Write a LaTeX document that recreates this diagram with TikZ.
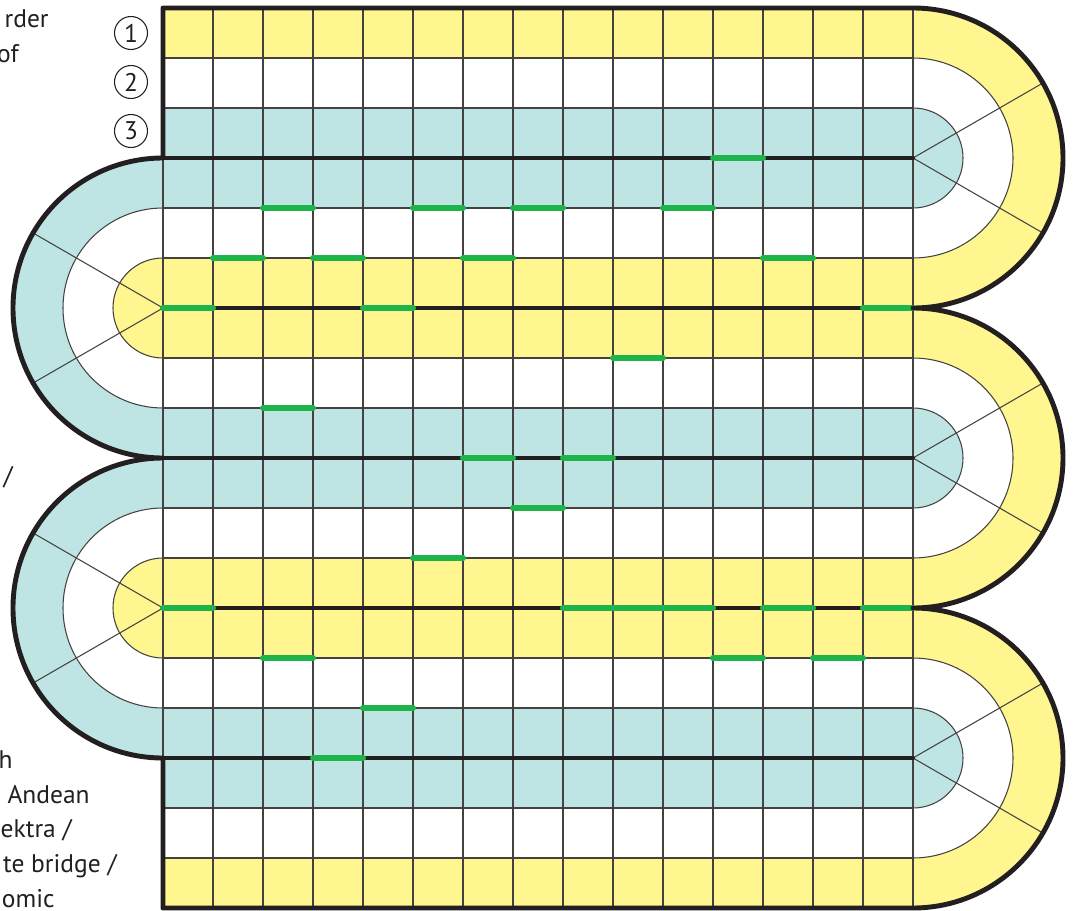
\documentclass[tikz,border=0pt]{standalone}
\usepackage{fontspec}
\setmainfont{PT Sans}
\definecolor{bandyellow}{RGB}{255,246,143}
\definecolor{bandblue}{RGB}{190,229,228}
\definecolor{bandgreen}{RGB}{29,181,74}
\definecolor{inkblack}{RGB}{35,31,32}

\begin{document}
\begin{tikzpicture}[
    gridline/.style={line width=0.6pt,draw=inkblack!85},
    rimline/.style={line width=2.8pt,draw=inkblack,line cap=round,line join=round},
    spineline/.style={line width=2.3pt,draw=inkblack,line cap=round},
    greenbar/.style={line width=3.4pt,draw=bandgreen,line cap=round},
    rownum/.style={circle,draw=inkblack,line width=0.6pt,minimum size=0.66cm,inner sep=0pt,text=inkblack,font=\fontsize{14.5}{17}\selectfont},
    sidetext/.style={anchor=base east,inner sep=0pt,text=inkblack,font=\fontsize{14.5}{17}\selectfont}]
  \useasboundingbox (-3.26,-0.04) rectangle (18.22,18.16);
  % straight rows
  \foreach \b in {0,6,12} {
    \fill[bandyellow] (0,\b) rectangle (15,\b+1);
    \fill[bandblue] (0,\b+2) rectangle (15,\b+4);
    \fill[bandyellow] (0,\b+5) rectangle (15,\b+6);
  }
  % turns on the right
  \foreach \c in {3,9,15} {
    \fill[bandyellow] (15,\c+3) arc[start angle=90,end angle=-90,radius=3] -- cycle;
    \fill[white] (15,\c+2) arc[start angle=90,end angle=-90,radius=2] -- cycle;
    \fill[bandblue] (15,\c+1) arc[start angle=90,end angle=-90,radius=1] -- cycle;
    \draw[gridline] (15,\c+2) arc[start angle=90,end angle=-90,radius=2];
    \draw[gridline] (15,\c+1) arc[start angle=90,end angle=-90,radius=1];
    \draw[gridline] (15,\c) -- ++(30:3) (15,\c) -- ++(-30:3);
  }
  % turns on the left
  \foreach \c in {6,12} {
    \fill[bandblue] (0,\c+3) arc[start angle=90,end angle=270,radius=3] -- cycle;
    \fill[white] (0,\c+2) arc[start angle=90,end angle=270,radius=2] -- cycle;
    \fill[bandyellow] (0,\c+1) arc[start angle=90,end angle=270,radius=1] -- cycle;
    \draw[gridline] (0,\c+2) arc[start angle=90,end angle=270,radius=2];
    \draw[gridline] (0,\c+1) arc[start angle=90,end angle=270,radius=1];
    \draw[gridline] (0,\c) -- ++(150:3) (0,\c) -- ++(210:3);
  }
  % grid
  \foreach \y in {1,...,17}
    \draw[gridline] (0,\y) -- (15,\y);
  \foreach \x in {0,...,15}
    \draw[gridline] (\x,0) -- (\x,18);
  \foreach \y in {3,6,...,15}
    \draw[spineline] (0,\y) -- (15,\y);
  % green marks
  \foreach \x/\y in {11/15,2/14,5/14,7/14,10/14,1/13,3/13,6/13,12/13,0/12,4/12,14/12,
      9/11,2/10,6/9,8/9,7/8,5/7,0/6,8/6,9/6,10/6,12/6,14/6,2/5,11/5,13/5,4/4,3/3}
    \draw[greenbar] (\x,\y) -- ++(1,0);
  % outline
  \draw[rimline] (0,3) -- (0,0) -- (15,0)
    arc[start angle=-90,end angle=90,radius=3]
    arc[start angle=-90,end angle=90,radius=3]
    arc[start angle=-90,end angle=90,radius=3] -- (0,18) -- (0,15)
    arc[start angle=90,end angle=270,radius=3]
    arc[start angle=90,end angle=270,radius=3];
  \node[rownum] (num1) at (-0.64,17.5) {1};
  \node[rownum] (num2) at (-0.64,16.52) {2};
  \node[rownum] (num3) at (-0.64,15.54) {3};
  \node[sidetext] (cutA) at (-2.28,17.6) {rder};
  \node[sidetext] (cutB) at (-2.88,16.9) {of};
  \node[sidetext] (cutC) at (-3.0,8.48) {/};
  \node[sidetext] (cutD) at (-3.0,2.8) {h};
  \node[sidetext] (cutE) at (-1.46,2.1) {Andean};
  \node[sidetext] (cutF) at (-1.82,1.42) {ektra /};
  \node[sidetext] (cutG) at (-0.92,0.72) {te bridge /};
  \node[sidetext] (cutH) at (-2.16,0.02) {omic};
\end{tikzpicture}
\end{document}
